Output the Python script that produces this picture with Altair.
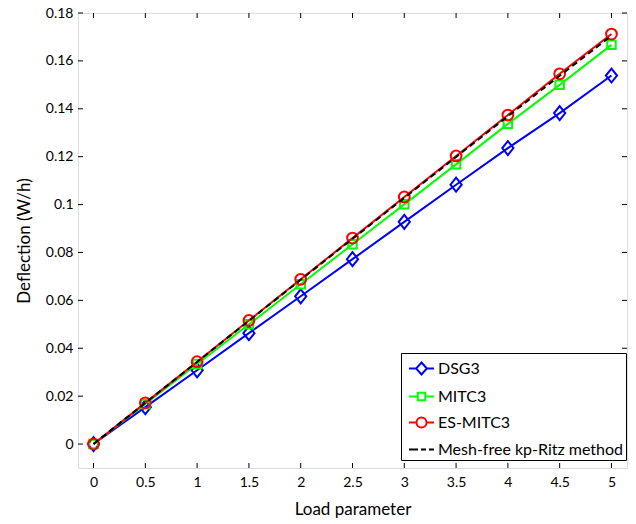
import altair as alt
import pandas as pd

load = [0, 0.5, 1, 1.5, 2, 2.5, 3, 3.5, 4, 4.5, 5]
dsg3 = [0, 0.0154, 0.0308, 0.0463, 0.0617, 0.0772, 0.0928, 0.1083, 0.1236, 0.1382, 0.1539]
mitc3 = [0, 0.0167, 0.0334, 0.0500, 0.0667, 0.0834, 0.1001, 0.1168, 0.1337, 0.1500, 0.1667]
es_mitc3 = [0, 0.0172, 0.0344, 0.0516, 0.0688, 0.0860, 0.1032, 0.1203, 0.1374, 0.1546, 0.1712]
meshfree = [0, 0.0172, 0.0343, 0.0515, 0.0686, 0.0857, 0.1028, 0.1199, 0.1369, 0.1538, 0.1705]

series_names = ["DSG3", "MITC3", "ES-MITC3", "Mesh-free kp-Ritz method"]
series_colors = ["#0000ff", "#00ff00", "#ff0000", "#000000"]
legend_paths = [
    "M-1,0L-0.43,0M0,-0.48L0.43,0L0,0.48L-0.43,0ZM0.43,0L1,0",
    "M-1,0L-0.3,0M-0.3,-0.3L0.3,-0.3L0.3,0.3L-0.3,0.3ZM0.3,0L1,0",
    "M-1,0L-0.4,0A0.4,0.4,0,1,1,0.4,0A0.4,0.4,0,1,1,-0.4,0M0.4,0L1,0",
    "M-1,0L-0.28,0M-0.04,0L0.36,0M0.6,0L1,0",
]
x_ticks = [0, 0.5, 1, 1.5, 2, 2.5, 3, 3.5, 4, 4.5, 5]
y_ticks = [0, 0.02, 0.04, 0.06, 0.08, 0.1, 0.12, 0.14, 0.16, 0.18]

FONT = "Lato"
W, H = 549, 455
TL = 5

xs = alt.Scale(domain=[-0.15, 5.15], nice=False, zero=False)
ys = alt.Scale(domain=[-0.01, 0.18], nice=False, zero=False)

x_axis = alt.Axis(values=x_ticks, format="~g", title="Load parameter", domain=False,
                  ticks=False, grid=False, labelPadding=7, titlePadding=12,
                  labelFont=FONT, labelFontSize=14, labelColor="black",
                  titleFont=FONT, titleFontSize=17, titleFontWeight="normal", titleColor="black")
y_axis = alt.Axis(values=y_ticks, format="~g", title="Deflection (W/h)", domain=False,
                  ticks=False, grid=False, labelPadding=5, titlePadding=12,
                  labelFont=FONT, labelFontSize=14, labelColor="black",
                  titleFont=FONT, titleFontSize=17, titleFontWeight="normal", titleColor="black")


def series_df(vals):
    return pd.DataFrame({"load": load, "val": vals})


def xenc():
    return alt.X("load:Q", scale=xs, axis=x_axis)


def yenc():
    return alt.Y("val:Q", scale=ys, axis=y_axis)


layers = []

# inward ticks on all four sides
xt = pd.DataFrame({"t": x_ticks})
yt = pd.DataFrame({"t": y_ticks})
layers.append(alt.Chart(xt).mark_rule(color="black", strokeWidth=1).encode(
    x=alt.X("t:Q", scale=xs, axis=x_axis), y=alt.value(H), y2=alt.value(H - TL)))
layers.append(alt.Chart(xt).mark_rule(color="black", strokeWidth=1).encode(
    x=alt.X("t:Q", scale=xs, axis=x_axis), y=alt.value(0), y2=alt.value(TL)))
layers.append(alt.Chart(yt).mark_rule(color="black", strokeWidth=1).encode(
    y=alt.Y("t:Q", scale=ys, axis=y_axis), x=alt.value(0), x2=alt.value(TL)))
layers.append(alt.Chart(yt).mark_rule(color="black", strokeWidth=1).encode(
    y=alt.Y("t:Q", scale=ys, axis=y_axis), x=alt.value(W), x2=alt.value(W - TL)))

# DSG3
d = series_df(dsg3)
layers.append(alt.Chart(d).mark_line(color=series_colors[0], strokeWidth=2).encode(x=xenc(), y=yenc()))
layers.append(alt.Chart(d).mark_point(shape="M0,-1L0.8,0L0,1L-0.8,0Z", size=196, filled=False,
                                      color=series_colors[0], strokeWidth=2, opacity=1).encode(x=xenc(), y=yenc()))
# MITC3
d = series_df(mitc3)
layers.append(alt.Chart(d).mark_line(color=series_colors[1], strokeWidth=2).encode(x=xenc(), y=yenc()))
layers.append(alt.Chart(d).mark_point(shape="square", size=72, filled=False,
                                      color=series_colors[1], strokeWidth=2, opacity=1).encode(x=xenc(), y=yenc()))
# ES-MITC3
d = series_df(es_mitc3)
layers.append(alt.Chart(d).mark_line(color=series_colors[2], strokeWidth=2).encode(x=xenc(), y=yenc()))
layers.append(alt.Chart(d).mark_point(shape="circle", size=115, filled=False,
                                      color=series_colors[2], strokeWidth=2, opacity=1).encode(x=xenc(), y=yenc()))
# Mesh-free
d = series_df(meshfree)
layers.append(alt.Chart(d).mark_line(color=series_colors[3], strokeWidth=2, strokeDash=[6, 4]).encode(x=xenc(), y=yenc()))

# legend-only layer
leg = pd.DataFrame({"series": series_names, "load": [0] * 4, "val": [0] * 4})
legend_props = dict(title=None, orient="none", legendX=323, legendY=340, padding=2,
                    symbolOffset=5, labelOffset=3, rowPadding=4, symbolSize=625,
                    symbolStrokeWidth=2, strokeColor="black", fillColor="white",
                    labelFont=FONT, labelFontSize=16, labelColor="black", labelLimit=400)
layers.append(alt.Chart(leg).mark_point(filled=False, strokeWidth=2, opacity=1).encode(
    x=xenc(), y=yenc(),
    color=alt.Color("series:N", scale=alt.Scale(domain=series_names, range=series_colors),
                    legend=alt.Legend(**legend_props)),
    shape=alt.Shape("series:N", scale=alt.Scale(domain=series_names, range=legend_paths),
                    legend=alt.Legend(**legend_props)),
).transform_filter("false"))

chart = alt.layer(*layers).properties(
    width=W, height=H,
    autosize=alt.AutoSizeParams(type="none"),
    padding={"left": 70, "top": 5, "right": 1, "bottom": 52},
).configure_view(stroke="black", strokeWidth=1).configure(background="white")

chart.save("out.html", embed_options={"renderer": "svg", "actions": False})
